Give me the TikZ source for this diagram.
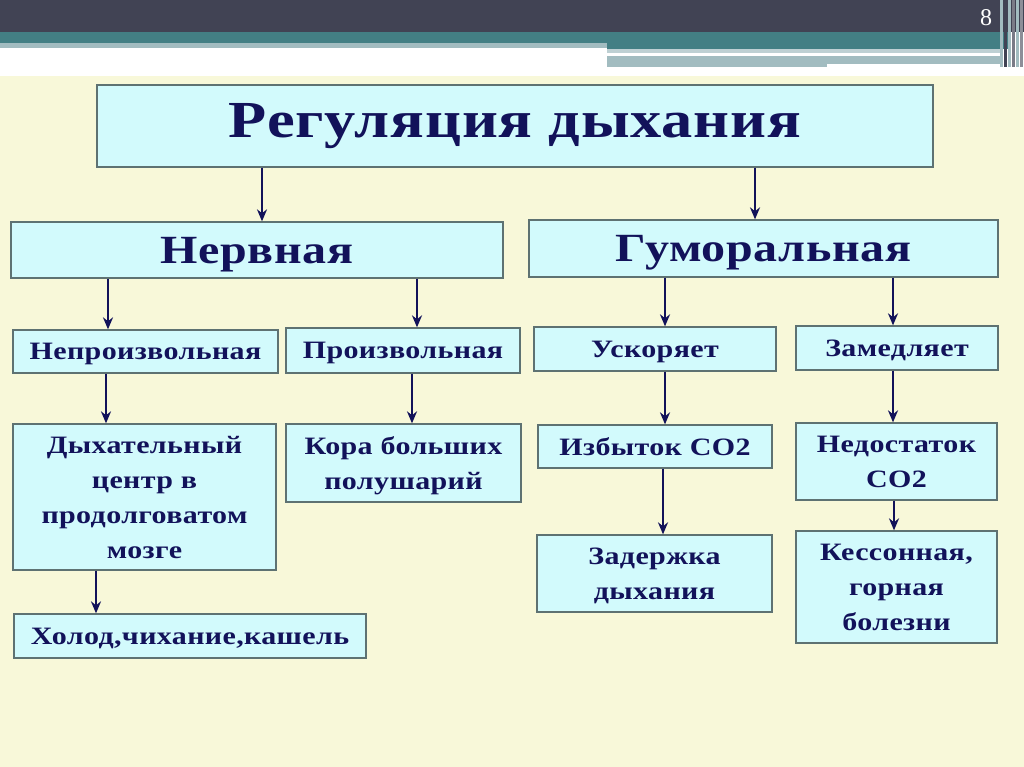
\documentclass[tikz,border=0pt]{standalone}
\usepackage{fontspec}
\setmainfont{Liberation Serif}
\newfontfamily\wideserif{Liberation Serif}[FakeStretch=1.2,LetterSpace=1.5]
\usetikzlibrary{arrows.meta}
\definecolor{ink}{HTML}{12125A}
\definecolor{boxfill}{HTML}{D2FAFC}
\definecolor{boxline}{HTML}{5E7272}
\definecolor{paper}{HTML}{F8F8D9}
\definecolor{barDark}{HTML}{414354}
\definecolor{barTeal}{HTML}{437F84}
\definecolor{barGrey}{HTML}{A2BCC0}

\begin{document}
\begin{tikzpicture}[x=1pt,y=-1pt,
  box/.style={draw=boxline,fill=boxfill,line width=1.3pt,align=center,text=ink,inner sep=0pt,text depth=0pt,font=\wideserif\bfseries\fontsize{25}{35}\selectfont},
  big/.style={box,font=\wideserif\bfseries\fontsize{40}{44}\selectfont},
  huge/.style={box,text depth=,font=\wideserif\bfseries\fontsize{52}{56}\selectfont},
  >={Stealth[length=12pt,width=10pt]}, arr/.style={->,draw=ink,line width=2.4pt}]
\useasboundingbox (0,0) rectangle (1024,767);
% slide background
\fill[white] (0,0) rectangle (1024,767);
\fill[paper] (0,76) rectangle (1024,767);
\fill[barDark] (0,0) rectangle (1024,32);
\fill[barGrey] (0,43) rectangle (607,48);
\fill[barTeal] (0,32) rectangle (1010,43);
\fill[barTeal] (607,43) rectangle (1010,49);
\fill[barGrey!70] (607,49) rectangle (1000,53);
\fill[barGrey] (607,56) rectangle (1000,67);
\fill[white] (827,64) rectangle (1000,67);
\foreach \xx/\cc in {1000/barGrey,1004/barDark,1008/barGrey,1012/barDark!70,1016/barGrey,1020/barDark!60}
  \fill[\cc] (\xx,0) rectangle ++(3,67);
\node[white,font=\fontsize{24}{24}\selectfont] (num) at (986,18) {8};

% boxes
\node[huge,minimum width=836pt,minimum height=82pt] (reg) at (515,126) {Регуляция дыхания};
\node[big,minimum width=492pt,minimum height=56pt] (nerv) at (257,250) {Нервная};
\node[big,minimum width=469pt,minimum height=57pt] (gum) at (763.5,248.5) {Гуморальная};
\node[box,minimum width=265pt,minimum height=43pt] (nepr) at (145.5,351.5) {Непроизвольная};
\node[box,minimum width=234pt,minimum height=45pt] (proiz) at (403,350.5) {Произвольная};
\node[box,minimum width=242pt,minimum height=44pt] (usk) at (655,349) {Ускоряет};
\node[box,minimum width=202pt,minimum height=44pt] (zam) at (897,348) {Замедляет};
\node[box,minimum width=263pt,minimum height=146pt] (dyh) at (144.5,497) {Дыхательный\\центр в\\продолговатом\\мозге};
\node[box,minimum width=235pt,minimum height=78pt] (kora) at (403.5,463) {Кора больших\\полушарий};
\node[box,minimum width=234pt,minimum height=43pt] (izb) at (655,446.5) {Избыток CO2};
\node[box,minimum width=201pt,minimum height=77pt] (nedo) at (896.5,461.5) {Недостаток\\CO2};
\node[box,minimum width=235pt,minimum height=77pt] (zad) at (654.5,573.5) {Задержка\\дыхания};
\node[box,minimum width=201pt,minimum height=112pt] (kess) at (896.5,587) {Кессонная,\\горная\\болезни};
\node[box,minimum width=352pt,minimum height=44pt] (hol) at (190,636) {Холод,чихание,кашель};

% arrows
\draw[arr] (reg.south -| 262,0) -- (nerv.north -| 262,0);
\draw[arr] (reg.south -| 755,0) -- (gum.north -| 755,0);
\draw[arr] (nerv.south -| 108,0) -- (nepr.north -| 108,0);
\draw[arr] (nerv.south -| 417,0) -- (proiz.north -| 417,0);
\draw[arr] (gum.south -| 665,0) -- (usk.north -| 665,0);
\draw[arr] (gum.south -| 893,0) -- (zam.north -| 893,0);
\draw[arr] (nepr.south -| 106,0) -- (dyh.north -| 106,0);
\draw[arr] (proiz.south -| 412,0) -- (kora.north -| 412,0);
\draw[arr] (usk.south -| 665,0) -- (izb.north -| 665,0);
\draw[arr] (zam.south -| 893,0) -- (nedo.north -| 893,0);
\draw[arr] (izb.south -| 663,0) -- (zad.north -| 663,0);
\draw[arr] (nedo.south -| 894,0) -- (kess.north -| 894,0);
\draw[arr] (dyh.south -| 96,0) -- (hol.north -| 96,0);
\end{tikzpicture}
\end{document}
